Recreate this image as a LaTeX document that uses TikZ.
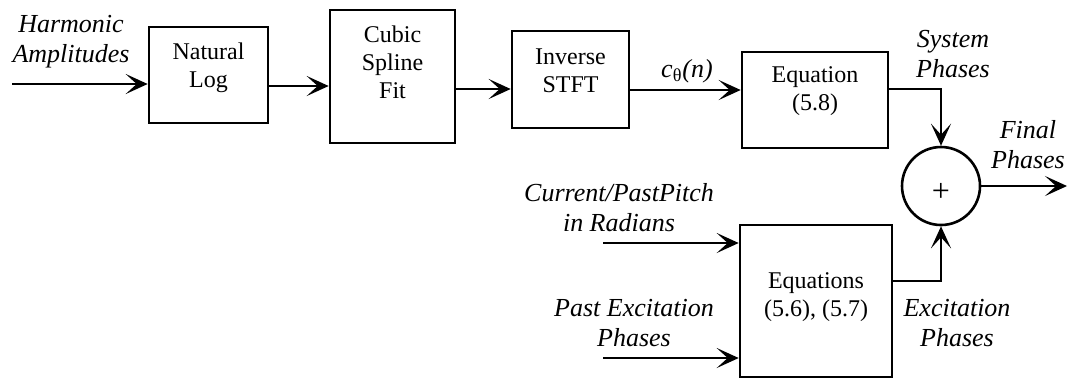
\documentclass[tikz,border=0pt]{standalone}
\usepackage{fontspec}
\setmainfont{Liberation Serif}
\usetikzlibrary{arrows.meta}
\begin{document}
\begin{tikzpicture}[x=0.5pt,y=-0.5pt,
  blk/.style={draw, line width=1.3pt, inner sep=0pt},
  boxtxt/.style={font=\fontsize{12}{14}\selectfont, align=center, inner sep=0pt},
  lbl/.style={font=\fontsize{13}{15}\selectfont\itshape, align=center, inner sep=0pt},
  wire/.style={line width=1.3pt},
  arr/.style={wire, -{Stealth[length=11pt,width=10pt,inset=5.5pt]}},
]
\useasboundingbox (0,0) rectangle (1068,382);

% processing blocks
\node[blk, minimum width=59.5pt, minimum height=48pt]   (nl)  at (208.5,75)  {};
\node[blk, minimum width=62.5pt, minimum height=66.5pt] (csf) at (392.5,76.5) {};
\node[blk, minimum width=58.5pt, minimum height=48.5pt] (ist) at (570.5,79.5) {};
\node[blk, minimum width=73pt,   minimum height=48pt]   (eqa) at (815,100)   {};
\node[blk, minimum width=76pt,   minimum height=76pt]   (eqb) at (816,301)   {};
\node[draw, circle, line width=1.3pt, minimum size=39pt, inner sep=0pt,
      font=\fontsize{16}{18}\selectfont] (sum) at (941,186)
      {\raisebox{-3pt}[\height][\depth]{+}};

% block texts
\node[boxtxt] (nltxt)  at (208.5,68) {Natural\\Log};
\node[boxtxt] (csftxt) at (392.5,62) {Cubic\\Spline\\Fit};
\node[boxtxt] (isttxt) at (570.5,71) {Inverse\\STFT};
\node[boxtxt] (eqatxt) at (815,91)   {Equation\\(5.8)};
\node[boxtxt] (eqbtxt) at (816,297)  {Equations\\(5.6), (5.7)};

% signal labels
\node[lbl] (harm)  at (71,42)   {Harmonic\\Amplitudes};
\node[lbl, anchor=base] (cth) at (687,77) {c\textsubscript{\upshape θ}(n)};
\node[lbl] (sysph) at (953,54)  {System\\Phases};
\node[lbl] (finph) at (1028,145) {Final\\Phases};
\node[lbl] (curp)  at (619,208) {Current/PastPitch\\in Radians};
\node[lbl] (pexc)  at (634,323) {Past Excitation\\Phases};
\node[lbl] (excph) at (957,323) {Excitation\\Phases};

% free ends of the connectors
\coordinate (hin)  at (12,84);
\coordinate (cin)  at (603,243);
\coordinate (pin)  at (603,358);
\coordinate (fout) at (1067,186);

% connectors
\draw[arr] (hin) -- (hin -| nl.west);
\draw[arr] ([yshift=-5.5pt]nl.east) -- ([yshift=-4.75pt]csf.west);
\draw[arr] ([yshift=-6.25pt]csf.east) -- ([yshift=-4.75pt]ist.west);
\draw[arr] ([yshift=-5.25pt]ist.east) -- ([yshift=5pt]eqa.west);
\draw[arr] ([yshift=5.5pt]eqa.east) -| (sum.north);
\draw[arr] (cin) -- (cin -| eqb.west);
\draw[arr] (pin) -- (pin -| eqb.west);
\draw[arr] ([yshift=10pt]eqb.east) -| (sum.south);
\draw[arr] (sum.east) -- (fout);
\end{tikzpicture}
\end{document}
